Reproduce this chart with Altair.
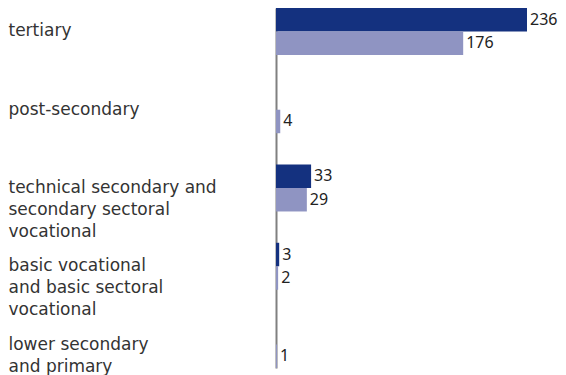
import altair as alt
import pandas as pd

categories = [
    "tertiary",
    "post-secondary",
    "technical secondary and|secondary sectoral|vocational",
    "basic vocational|and basic sectoral|vocational",
    "lower secondary|and primary",
]
series_names = ["series 1", "series 2"]
series1 = [236, 0, 33, 3, 0]
series2 = [176, 4, 29, 2, 1]

rows = []
for c, a, b in zip(categories, series1, series2):
    rows.append({"category": c, "series": series_names[0], "value": a})
    rows.append({"category": c, "series": series_names[1], "value": b})
df = pd.DataFrame(rows)

LABEL_FONT = "DejaVu Sans"
VALUE_FONT = "Noto Sans"

y_enc = alt.Y(
    "category:N",
    sort=categories,
    scale=alt.Scale(paddingInner=0.4, paddingOuter=0),
    axis=alt.Axis(
        title=None,
        ticks=False,
        labelAlign="left",
        labelBaseline="middle",
        labelPadding=268,
        labelFont=LABEL_FONT,
        labelFontSize=17,
        labelColor="#333333",
        labelLineHeight=22,
        labelLimit=300,
        labelExpr="split(datum.label, '|')",
        domainColor="#808080",
        domainWidth=2,
        grid=False,
    ),
)
yoff = alt.YOffset("series:N", sort=series_names,
                   scale=alt.Scale(paddingInner=0, paddingOuter=0))
x_enc = alt.X("value:Q", scale=alt.Scale(domain=[0, 236], nice=False), axis=None)

bars = alt.Chart(df).mark_bar().encode(
    x=x_enc,
    y=y_enc,
    yOffset=yoff,
    color=alt.Color(
        "series:N",
        sort=series_names,
        scale=alt.Scale(domain=series_names, range=["#14317f", "#8f94c2"]),
        legend=None,
    ),
)

labels = alt.Chart(df).transform_filter("datum.value > 0").mark_text(
    align="left", baseline="middle", dx=3, font=VALUE_FONT, fontSize=16, color="#222222"
).encode(
    x=x_enc,
    y=y_enc,
    yOffset=yoff,
    text=alt.Text("value:Q"),
)

chart = (
    alt.layer(bars, labels)
    .properties(width=251, height=360, padding={"left": 0, "top": 0, "right": 0, "bottom": 0})
    .configure_view(stroke=None)
)

chart.save("out.html", embed_options={"renderer": "svg", "actions": False})
